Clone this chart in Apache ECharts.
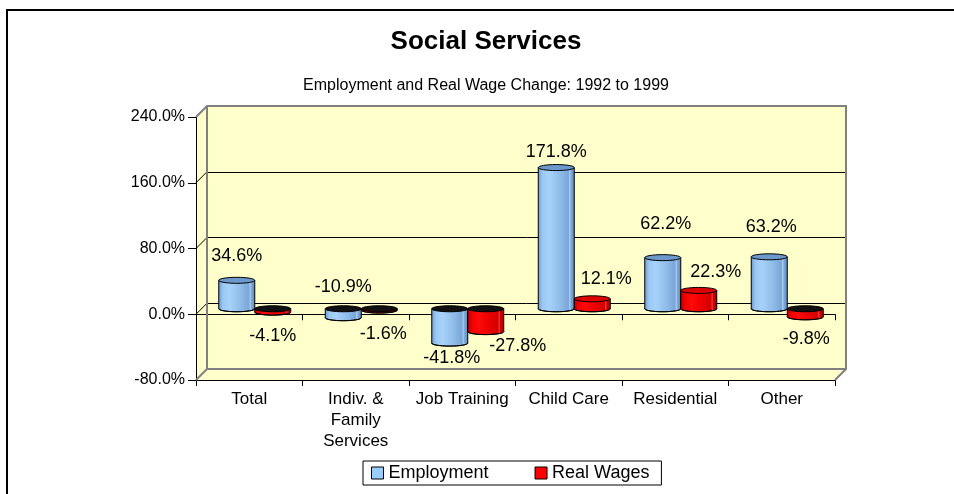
<!DOCTYPE html>
<html><head><meta charset="utf-8">
<script src="https://cdn.jsdelivr.net/npm/echarts@6/dist/echarts.min.js"></script>
<style>html,body{margin:0;padding:0;background:#fff;overflow:hidden}#c{width:954px;height:494px}</style>
</head><body><div id="c"></div>
<script>
// ---- data ----
const categories = ['Total', 'Indiv. &\nFamily\nServices', 'Job Training', 'Child Care', 'Residential', 'Other'];
const employment = [34.6, -10.9, -41.8, 171.8, 62.2, 63.2];
const realWages = [-4.1, -1.6, -27.8, 12.1, 22.3, -9.8];
const yTicks = [-80, 0, 80, 160, 240];
const seriesNames = ['Employment', 'Real Wages'];
const titleText = 'Social Services';
const subtitleText = 'Employment and Real Wage Change: 1992 to 1999';

// ---- style ----
const FONT = '"Liberation Sans", Arial, sans-serif';
const WALL = '#FFFFCC';
const EDGE = '#808080';
const DEPTH = 11;
// label nudges (px) mimicking Excel's 3D label placement
const empLabelNudge = [[0, 0], [0, -55], [2, -9], [0, 8], [3, -10], [2, -6]];
const wageLabelNudge = [[0, 0], [4, 0], [32, -10], [14, 4], [17, 6], [1, -2]];

const blueStops = [
  {offset: 0, color: '#6F9CD0'}, {offset: 0.12, color: '#9CC9F4'}, {offset: 0.3, color: '#A6D2FA'},
  {offset: 0.6, color: '#90BCE9'}, {offset: 0.84, color: '#7AA5D8'}, {offset: 0.87, color: '#AACFF2'},
  {offset: 0.91, color: '#7EA8D8'}, {offset: 1, color: '#5F8BC0'}];
const redStops = [
  {offset: 0, color: '#C00000'}, {offset: 0.12, color: '#F20000'}, {offset: 0.3, color: '#FF0A0A'},
  {offset: 0.6, color: '#EA0000'}, {offset: 0.84, color: '#D20000'}, {offset: 0.87, color: '#FF3535'},
  {offset: 0.91, color: '#D20000'}, {offset: 1, color: '#A00000'}];

function cylinder(side, stops, topColor, nudges) {
  return function (params, api) {
    const ci = api.value(0), v = api.value(1);
    const p0 = api.coord([ci, 0]), p1 = api.coord([ci, v]);
    const band = api.size([1, 0])[0];
    const w = band * 0.338, rx = w / 2, ry = 3;
    const cx = p0[0] + side * w / 2 + DEPTH / 2;
    const yz = p0[1] - DEPTH / 2, yv = p1[1] - DEPTH / 2;
    const top = Math.min(yz, yv), bot = Math.max(yz, yv);
    const grad = () => new echarts.graphic.LinearGradient(0, 0, 1, 0, stops);
    const n = nudges[params.dataIndex] || [0, 0];
    const ly = v >= 0 ? top - 24 : bot + 24;
    return {
      type: 'group',
      children: [
        {type: 'ellipse', shape: {cx: cx, cy: bot, rx: rx, ry: ry}, style: {fill: grad(), stroke: '#000', lineWidth: 1}},
        {type: 'rect', shape: {x: cx - rx, y: top, width: w, height: bot - top}, style: {fill: grad()}},
        {type: 'line', shape: {x1: cx - rx, y1: top, x2: cx - rx, y2: bot}, style: {stroke: '#000', lineWidth: 1}},
        {type: 'line', shape: {x1: cx + rx, y1: top, x2: cx + rx, y2: bot}, style: {stroke: '#000', lineWidth: 1}},
        {type: 'ellipse', shape: {cx: cx, cy: top, rx: rx, ry: ry}, style: {fill: v >= 0 ? topColor : '#111', stroke: '#000', lineWidth: 1}},
        {type: 'text', style: {text: v.toFixed(1) + '%', x: cx + n[0], y: ly + n[1], align: 'center', verticalAlign: 'middle', fontSize: 18, fontFamily: FONT, fill: '#000'}}
      ]
    };
  };
}

const yMin = yTicks[0], yMax = yTicks[yTicks.length - 1], yInt = yTicks[1] - yTicks[0];
const gridFront = {left: 196, top: 117, width: 639, height: 263, outerBoundsMode: 'none'};

const chart = echarts.init(document.getElementById('c'), null, {renderer: 'canvas'});
const option = {
  backgroundColor: '#fff',
  animation: false,
  title: [
    {text: titleText, left: 486, top: 29, textAlign: 'center', padding: 0,
     textStyle: {fontSize: 26, fontWeight: 'bold', fontFamily: FONT, color: '#000'}},
    {text: subtitleText, left: 486, top: 78, textAlign: 'center', padding: 0,
     textStyle: {fontSize: 16, fontWeight: 'normal', fontFamily: FONT, color: '#000'}}
  ],
  legend: {
    left: 363, top: 461, orient: 'horizontal', padding: [3, 12, 3, 8], itemGap: 46,
    itemWidth: 12, itemHeight: 12, borderColor: '#000', borderWidth: 1, backgroundColor: '#fff',
    textStyle: {fontSize: 18, fontFamily: FONT, color: '#000'},
    data: [
      {name: seriesNames[0], icon: 'rect', itemStyle: {color: '#99CCFF', borderColor: '#000', borderWidth: 1}},
      {name: seriesNames[1], icon: 'rect', itemStyle: {color: '#FF0000', borderColor: '#000', borderWidth: 1}}
    ]
  },
  grid: [
    Object.assign({}, gridFront),
    Object.assign({}, gridFront),
    {left: 196 + DEPTH, top: 117 - DEPTH, width: 639, height: 263, show: true, backgroundColor: WALL, borderWidth: 0, outerBoundsMode: 'none'}
  ],
  xAxis: [
    {gridIndex: 0, type: 'category', data: categories, boundaryGap: true,
     axisLine: {onZero: false, lineStyle: {color: '#000', width: 1}},
     axisTick: {show: true, length: 6, lineStyle: {color: '#000'}},
     axisLabel: {interval: 0, fontSize: 17, lineHeight: 21, margin: 9, color: '#000', fontFamily: FONT}},
    {gridIndex: 1, type: 'category', data: categories, boundaryGap: true,
     axisLine: {onZero: true, lineStyle: {color: '#000', width: 1}},
     axisTick: {show: true, length: 6, lineStyle: {color: '#000'}},
     axisLabel: {show: false}},
    {gridIndex: 2, type: 'category', data: categories, boundaryGap: true, show: false}
  ],
  yAxis: [
    {gridIndex: 0, type: 'value', min: yMin, max: yMax, interval: yInt,
     axisLine: {show: true, lineStyle: {color: '#000', width: 1}},
     axisTick: {show: true, length: 8, lineStyle: {color: '#000'}},
     splitLine: {show: false},
     axisLabel: {fontSize: 16, margin: 11, color: '#000', fontFamily: FONT, formatter: v => v.toFixed(1) + '%'}},
    {gridIndex: 1, type: 'value', min: yMin, max: yMax, interval: yInt, show: false},
    {gridIndex: 2, type: 'value', min: yMin, max: yMax, interval: yInt,
     axisLine: {show: false}, axisTick: {show: false}, axisLabel: {show: false},
     splitLine: {show: true, lineStyle: {color: '#000', width: 1}}}
  ],
  series: [
    {name: seriesNames[0], type: 'custom', xAxisIndex: 0, yAxisIndex: 0, z: 5,
     itemStyle: {color: '#99CCFF'},
     renderItem: cylinder(-1, blueStops, '#6C98CC', empLabelNudge),
     data: employment.map((v, i) => [i, v])},
    {name: seriesNames[1], type: 'custom', xAxisIndex: 0, yAxisIndex: 0, z: 5,
     itemStyle: {color: '#FF0000'},
     renderItem: cylinder(1, redStops, '#DD0000', wageLabelNudge),
     data: realWages.map((v, i) => [i, v])}
  ]
};
chart.setOption(option);

// 3D walls derived from the axes' own scales
const xc = i => chart.convertToPixel({xAxisIndex: 0}, i);
const yc = v => chart.convertToPixel({yAxisIndex: 0}, v);
const band = xc(1) - xc(0);
const L = xc(0) - band / 2, R = xc(categories.length - 1) + band / 2;
const yT = yc(yMax), yB = yc(yMin), D = DEPTH;
const g = [];
g.push({type: 'polygon', z: -1, shape: {points: [[L, yT], [L + D, yT - D], [L + D, yB - D], [L, yB]]}, style: {fill: WALL}});
g.push({type: 'polygon', z: -1, shape: {points: [[L, yB], [L + D, yB - D], [R + D, yB - D], [R, yB]]}, style: {fill: WALL}});
yTicks.forEach(t => {
  if (t === yMin || t === yMax) return;
  const y = yc(t);
  g.push({type: 'line', z: 1, shape: {x1: L, y1: y, x2: L + D, y2: y - D}, style: {stroke: '#000', lineWidth: 1}});
});
g.push({type: 'polyline', z: 1, shape: {points: [[L, yT], [L + D, yT - D], [R + D, yT - D], [R + D, yB - D], [R, yB]]}, style: {stroke: EDGE, lineWidth: 2, fill: null}});
g.push({type: 'polyline', z: 1, shape: {points: [[L + D, yT - D], [L + D, yB - D], [R + D, yB - D]]}, style: {stroke: EDGE, lineWidth: 2, fill: null}});
g.push({type: 'line', z: 1, shape: {x1: L, y1: yB, x2: L + D, y2: yB - D}, style: {stroke: EDGE, lineWidth: 2}});
g.push({type: 'rect', z: 1, shape: {x: 7, y: 10, width: 960, height: 500}, style: {stroke: '#000', lineWidth: 2, fill: null}});
chart.setOption({graphic: g});
</script>
</body></html>
